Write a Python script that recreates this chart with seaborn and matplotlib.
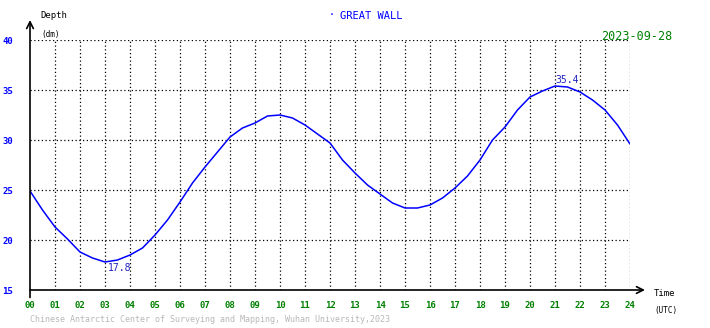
import pandas as pd
import matplotlib
matplotlib.use("Agg")
import matplotlib.pyplot as plt
import seaborn as sns

# tide reading, every half hour (UTC)
hours = [0, 0.5, 1, 1.5, 2, 2.5, 3, 3.5, 4, 4.5, 5, 5.5, 6, 6.5, 7, 7.5, 8, 8.5,
         9, 9.5, 10, 10.5, 11, 11.5, 12, 12.5, 13, 13.5, 14, 14.5, 15, 15.5, 16,
         16.5, 17, 17.5, 18, 18.5, 19, 19.5, 20, 20.5, 21, 21.5, 22, 22.5, 23,
         23.5, 24]
depth = [24.9, 23.0, 21.3, 20.1, 18.8, 18.2, 17.8, 18.0, 18.5, 19.2, 20.5, 22.0,
         23.8, 25.7, 27.3, 28.8, 30.3, 31.2, 31.7, 32.4, 32.5, 32.2, 31.5, 30.6,
         29.7, 28.0, 26.7, 25.5, 24.6, 23.7, 23.2, 23.2, 23.5, 24.2, 25.2, 26.4,
         28.0, 30.0, 31.3, 33.0, 34.3, 34.9, 35.4, 35.3, 34.8, 34.0, 33.0, 31.5,
         29.6]
x_ticks = list(range(0, 25))
x_labels = [f"{h:02d}" for h in x_ticks]
y_ticks = [15, 20, 25, 30, 35, 40]

station = "GREAT WALL"
date_str = "2023-09-28"
footer = "Chinese Antarctic Center of Surveying and Mapping, Wuhan University,2023"

df = pd.DataFrame({"Time": hours, "Depth": depth})

sns.set_style("white")
plt.rcParams["font.family"] = ["DejaVu Sans Mono", "DejaVu Sans"]

fig = plt.figure(figsize=(7.1, 3.28), dpi=100)
ax = fig.add_axes([30 / 710, 38 / 328, 600 / 710, 250 / 328])

sns.lineplot(data=df, x="Time", y="Depth", color="#0000ff", linewidth=1.1, ax=ax)

ax.set_xlim(0, 24)
ax.set_ylim(15, 40)
ax.set_xticks(x_ticks)
ax.set_xticklabels(x_labels, color="#008000", fontsize=6.5, fontweight="bold")
ax.set_yticks(y_ticks)
ax.set_yticklabels([str(v) for v in y_ticks], color="#0000ff", fontsize=6.5, fontweight="bold")
ax.tick_params(axis="both", length=0)
ax.tick_params(axis="x", pad=8)
ax.tick_params(axis="y", pad=12)
ax.set_xlabel("")
ax.set_ylabel("")

# dotted grid
for h in x_ticks[1:]:
    ax.axvline(h, color="black", linestyle=(0, (1, 2)), linewidth=0.9, zorder=0)
for v in y_ticks[1:]:
    ax.axhline(v, color="black", linestyle=(0, (1, 2)), linewidth=0.9, zorder=0)

for s in ax.spines.values():
    s.set_visible(False)

# axes with arrow heads
ax.annotate("", xy=(0, 1.08), xytext=(0, -0.03), xycoords="axes fraction",
            arrowprops=dict(arrowstyle="->", color="black", lw=1.2,
                            mutation_scale=12, shrinkA=0, shrinkB=0))
ax.annotate("", xy=(1.025, 0), xytext=(0, 0), xycoords="axes fraction",
            arrowprops=dict(arrowstyle="->", color="black", lw=1.2,
                            mutation_scale=12, shrinkA=0, shrinkB=0))

# min / max labels
i_min = depth.index(min(depth))
i_max = depth.index(max(depth))
ax.annotate(f"{depth[i_min]:.1f}", xy=(hours[i_min], depth[i_min]), xytext=(2, -1),
            textcoords="offset points", ha="left", va="top", color="#2020c0", fontsize=7)
ax.annotate(f"{depth[i_max]:.1f}", xy=(hours[i_max], depth[i_max]), xytext=(0, 1),
            textcoords="offset points", ha="left", va="bottom", color="#2020c0", fontsize=7)

# text around the frame
fig.text(40 / 710, 1 - 16 / 328, "Depth", fontsize=6.5, color="black", va="center")
fig.text(41 / 710, 1 - 34 / 328, "(dm)", fontsize=5.5, color="black", va="center")
fig.text(654 / 710, 1 - 294 / 328, "Time", fontsize=6.5, color="black", va="center")
fig.text(654 / 710, 1 - 310 / 328, "(UTC)", fontsize=5.5, color="black", va="center")
fig.text(329 / 710, 1 - 15 / 328, "·", fontsize=7, color="#0000ff", va="center")
fig.text(340 / 710, 1 - 16 / 328, station, fontsize=7.5, color="#0000ff", va="center")
fig.text(672 / 710, 1 - 37 / 328, date_str, fontsize=8.5, color="#008000",
         va="center", ha="right")
fig.text(30 / 710, 1 - 320 / 328, footer, fontsize=6.0, color="#b8b8b8", va="center")

fig.savefig("out.png", dpi=100)
